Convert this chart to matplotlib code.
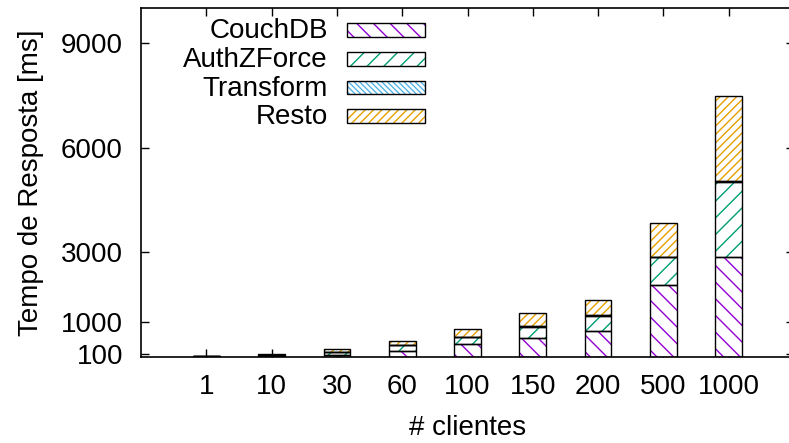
import matplotlib
matplotlib.use("Agg")
import matplotlib.pyplot as plt
import numpy as np
from matplotlib.patches import Rectangle

plt.rcParams["font.family"] = ["Liberation Sans", "DejaVu Sans"]
plt.rcParams["hatch.linewidth"] = 1.0

clientes = ["1", "10", "30", "60", "100", "150", "200", "500", "1000"]
couchdb = [15, 25, 65, 180, 370, 545, 745, 2070, 2855]
authzforce = [8, 15, 75, 155, 200, 325, 440, 785, 2150]
transform = [2, 4, 6, 8, 10, 12, 15, 20, 25]
resto = [15, 40, 80, 125, 230, 375, 435, 970, 2450]

series = [
    ("CouchDB", couchdb, "#9400d3", "\\\\"),
    ("AuthZForce", authzforce, "#009e73", "//"),
    ("Transform", transform, "#56b4e9", "\\\\\\\\\\\\"),
    ("Resto", resto, "#e69f00", "////"),
]

W, H = 789, 443
fig = plt.figure(figsize=(W / 100, H / 100), dpi=100)
ax = fig.add_axes([141 / W, (H - 357) / H, 653 / W, 349 / H])

x = np.arange(len(clientes))
largura = 0.41
base = np.zeros(len(clientes))
for nome, vals, cor, hatch in series:
    vals = np.array(vals, dtype=float)
    ax.bar(x, vals, largura, bottom=base, color="white", edgecolor=cor,
           hatch=hatch, linewidth=0, zorder=2)
    ax.bar(x, vals, largura, bottom=base, fill=False, edgecolor="black",
           linewidth=1.0, zorder=3)
    base += vals

ax.set_xlim(-1, 9)
ax.set_ylim(0, 10000)
ax.set_xticks(x)
ax.set_xticklabels(clientes)
ax.set_yticks([100, 1000, 3000, 6000, 9000])
ax.tick_params(direction="in", length=6, width=1, labelsize=20,
               top=True, right=True)
ax.tick_params(axis="y", pad=13)
ax.tick_params(axis="x", pad=12)
for s in ax.spines.values():
    s.set_linewidth(1.2)

ax.set_xlabel("# clientes", fontsize=20, labelpad=11)
ax.set_ylabel("Tempo de Resposta [ms]", fontsize=20, labelpad=12)

# legenda no canto superior esquerdo: texto à direita alinhado, amostra ao lado
centros = [30, 59, 87.5, 116]
for (nome, vals, cor, hatch), cy in zip(series, centros):
    fig.text(328 / W, 1 - (cy + 8) / H, nome, ha="right", va="baseline",
             fontsize=20)
    caixa = (347 / W, 1 - (cy + 6.7) / H)
    fig.add_artist(Rectangle(caixa, 78 / W, 13.4 / H, transform=fig.transFigure,
                             facecolor="white", edgecolor=cor, hatch=hatch,
                             linewidth=0))
    fig.add_artist(Rectangle(caixa, 78 / W, 13.4 / H, transform=fig.transFigure,
                             fill=False, edgecolor="black", linewidth=1.0))

fig.savefig("out.png", dpi=100)
